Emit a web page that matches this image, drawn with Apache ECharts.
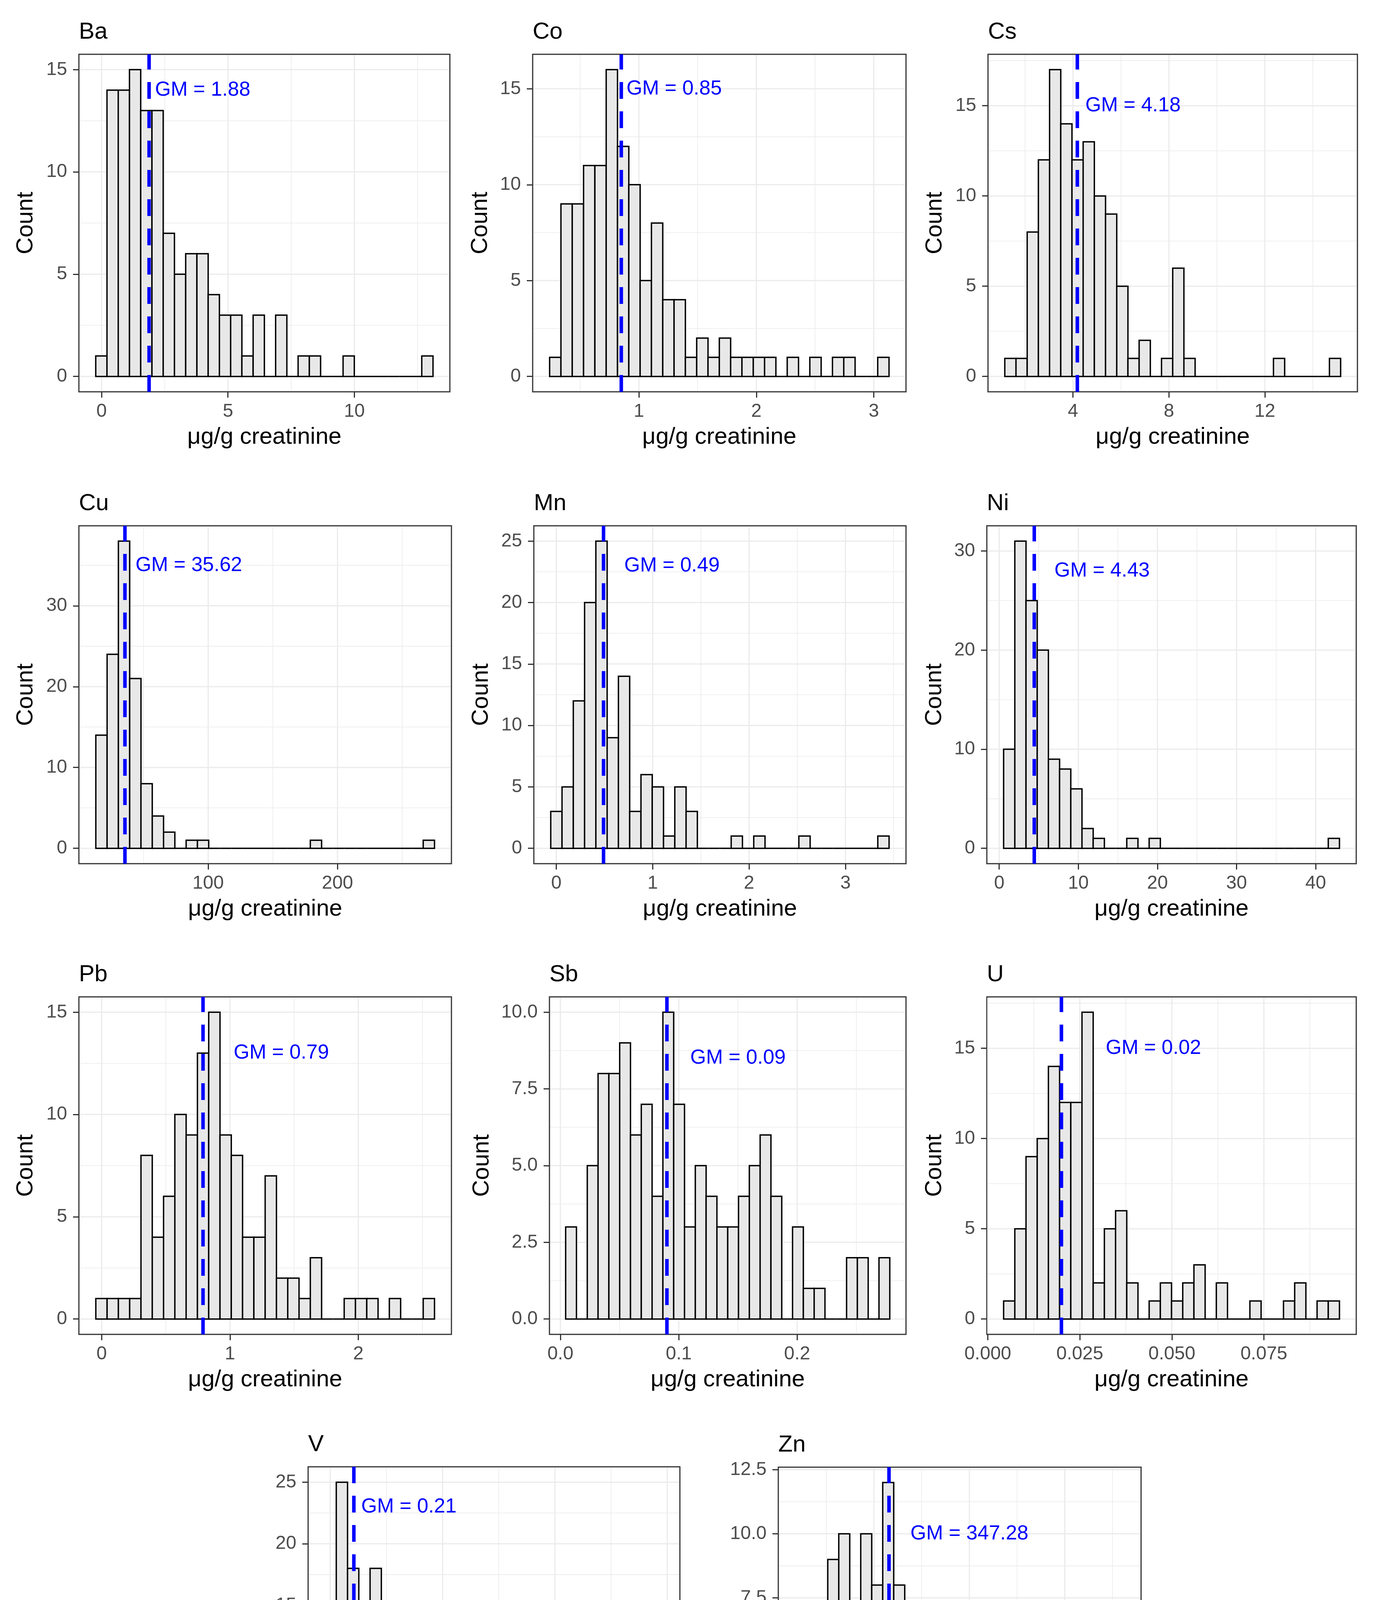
<!DOCTYPE html>
<html>
<head>
<meta charset="utf-8">
<script src="https://cdn.jsdelivr.net/npm/echarts@6/dist/echarts.min.js"></script>
<style>
html,body{margin:0;padding:0;background:#ffffff;}
#chart{width:3521px;height:4807px;}
</style>
</head>
<body>
<div id="chart"></div>
<script>
// ---------------- DATA ----------------
const elements = ['Ba','Co','Cs','Cu','Mn','Ni','Pb','Sb','U','V','Zn'];

// histogram counts (30 bins each)
const countsBa = [1,14,14,15,13,13,7,5,6,6, 4,3,3,1,3,0,3,0,1,1, 0,0,1,0,0,0,0,0,0,1];
const countsCo = [1,9,9,11,11,16,12,10,5,8, 4,4,1,2,1,2,1,1,1,1, 0,1,0,1,0,1,1,0,0,1];
const countsCs = [1,1,8,12,17,14,12,13,10,9, 5,1,2,0,1,6,1,0,0,0, 0,0,0,0,1,0,0,0,0,1];
const countsCu = [14,24,38,21,8,4,2,0,1,1, 0,0,0,0,0,0,0,0,0,1, 0,0,0,0,0,0,0,0,0,1];
const countsMn = [3,5,12,20,25,9,14,3,6,5, 1,5,3,0,0,0,1,0,1,0, 0,0,1,0,0,0,0,0,0,1];
const countsNi = [10,31,25,20,9,8,6,2,1,0, 0,1,0,1,0,0,0,0,0,0, 0,0,0,0,0,0,0,0,0,1];
const countsPb = [1,1,1,1,8,4,6,10,9,13, 15,9,8,4,4,7,2,2,1,3, 0,0,1,1,1,0,1,0,0,1];
const countsSb = [3,0,5,8,8,9,6,7,4,10, 7,3,5,4,3,3,4,5,6,4, 0,3,1,1,0,0,2,2,0,2];
const countsU  = [1,5,9,10,14,12,12,17,2,5, 6,2,0,1,2,1,2,3,0,2, 0,0,1,0,0,1,2,0,1,1];
const countsV  = [13,25,18,12,18,6,9,2,4,4, 1,0,1,1,0,0,0,0,0,0, 0,0,0,0,0,0,0,0,0,1];
const countsZn = [1,1,3,9,10,7,10,8,12,8, 6,7,5,6,2,3,2,7,2,2, 1,0,1,0,0,0,1,0,0,1];

// left edge of the first bin and bin width (µg/g creatinine)
const binStart = [-0.230, 0.240, 1.155, 13.1, -0.0576, 0.556, -0.0455, 0.00444, 0.0043, -0.0468, 51];
const binWidth = [0.4447, 0.09632, 0.4668, 8.73, 0.117, 1.415, 0.08798, 0.009128, 0.003041, 0.1003, 34.57];

// geometric means and their labels
const gmValues = [1.88, 0.85, 4.18, 35.62, 0.49, 4.43, 0.79, 0.09, 0.02, 0.21, 347.28];
const gmLabels = ['1.88','0.85','4.18','35.62','0.49','4.43','0.79','0.09','0.02','0.21','347.28'];
const gmLabelX = [4.0, 1.3, 6.5, 85, 1.2, 13, 1.4, 0.15, 0.045, 0.7, 600];
const gmLabelY = [14, 15, 15, 35, 23, 28, 13, 8.5, 15, 23, 10];

// tick labels
const xTicksBa = ['0','5','10'];            const yTicksBa = ['0','5','10','15'];
const xTicksCo = ['1','2','3'];             const yTicksCo = ['0','5','10','15'];
const xTicksCs = ['4','8','12'];            const yTicksCs = ['0','5','10','15'];
const xTicksCu = ['100','200'];             const yTicksCu = ['0','10','20','30'];
const xTicksMn = ['0','1','2','3'];         const yTicksMn = ['0','5','10','15','20','25'];
const xTicksNi = ['0','10','20','30','40']; const yTicksNi = ['0','10','20','30'];
const xTicksPb = ['0','1','2'];             const yTicksPb = ['0','5','10','15'];
const xTicksSb = ['0.0','0.1','0.2'];       const yTicksSb = ['0.0','2.5','5.0','7.5','10.0'];
const xTicksU  = ['0.000','0.025','0.050','0.075']; const yTicksU = ['0','5','10','15'];
const xTicksV  = ['0','1','2','3'];         const yTicksV  = ['0','5','10','15','20','25'];
const xTicksZn = ['300','600','900'];       const yTicksZn = ['0.0','2.5','5.0','7.5','10.0','12.5'];

const xAxisTitle = 'μg/g creatinine';
const yAxisTitle = 'Count';

// ---------------- LAYOUT (pixels) ----------------
const panelL = [202, 1364, 2530, 202, 1367, 2527, 202, 1407, 2527, 789, 1993];
const panelT = [139, 139, 139, 1346, 1346, 1346, 2552, 2552, 2552, 3755, 3756];
const panelR = [1152, 2320, 3476, 1156, 2320, 3473, 1156, 2320, 3473, 1741, 2922];
const panelB = [1003, 1003, 1003, 2211, 2211, 2211, 3416, 3416, 3416, 4622, 4622];
const countX = [66, 1230, 2394, 66, 1232, 2393, 66, 1234, 2393, 653, 1815];

const FONT = '"Liberation Sans", Arial, Helvetica, sans-serif';
const TICK_FS = 48, TITLE_FS = 60, AXTITLE_FS = 60, GM_FS = 52;

// ---------------- BUILD ----------------
const allCounts = [countsBa,countsCo,countsCs,countsCu,countsMn,countsNi,countsPb,countsSb,countsU,countsV,countsZn];
const allXTicks = [xTicksBa,xTicksCo,xTicksCs,xTicksCu,xTicksMn,xTicksNi,xTicksPb,xTicksSb,xTicksU,xTicksV,xTicksZn];
const allYTicks = [yTicksBa,yTicksCo,yTicksCs,yTicksCu,yTicksMn,yTicksNi,yTicksPb,yTicksSb,yTicksU,yTicksV,yTicksZn];

function makeFormatter(strs){
  const nums = strs.map(Number);
  return function(v){
    let best = 0;
    for (let k = 1; k < nums.length; k++) if (Math.abs(nums[k]-v) < Math.abs(nums[best]-v)) best = k;
    return strs[best];
  };
}
function minorBreaks(major, lim){
  const step = major[1]-major[0];
  const out = [];
  for (let k = -1; k < major.length; k++){
    const m = (k < 0 ? major[0]-step : major[k]) + step/2;
    if (m > lim[0] && m < lim[1]) out.push(m);
  }
  return out;
}

const grids=[], xAxes=[], yAxes=[], series=[], titles=[];

elements.forEach((el, i) => {
  const c = allCounts[i], w = binWidth[i], s = binStart[i], n = c.length;
  const e = s + n*w, span = e - s;
  const xLim = [s - 0.05*span, e + 0.05*span];
  const maxC = Math.max(...c);
  const yLim = [-0.05*maxC, 1.05*maxC];
  const xt = allXTicks[i].map(Number), yt = allYTicks[i].map(Number);
  const L = panelL[i], T = panelT[i], W = panelR[i]-panelL[i], H = panelB[i]-panelT[i];

  grids.push({left:L, top:T, width:W, height:H, show:true, borderColor:'#333333', borderWidth:3,
              backgroundColor:'#ffffff', containLabel:false, outerBoundsMode:'none'});

  xAxes.push({
    gridIndex:i, type:'value', min:xLim[0], max:xLim[1], position:'bottom',
    axisLine:{show:false, onZero:false},
    axisTick:{show:true, customValues:xt, length:15, inside:false, lineStyle:{color:'#333333', width:3}},
    axisLabel:{show:true, customValues:xt, formatter:makeFormatter(allXTicks[i]), margin:27,
               color:'#4d4d4d', fontSize:TICK_FS, fontFamily:FONT, hideOverlap:false},
    splitLine:{show:false},
    name:xAxisTitle, nameLocation:'middle', nameGap:86, nameMoveOverlap:false,
    nameTextStyle:{fontSize:AXTITLE_FS, color:'#000000', fontFamily:FONT}
  });
  yAxes.push({
    gridIndex:i, type:'value', min:yLim[0], max:yLim[1], position:'left',
    axisLine:{show:false, onZero:false},
    axisTick:{show:true, customValues:yt, length:15, inside:false, lineStyle:{color:'#333333', width:3}},
    axisLabel:{show:true, customValues:yt, formatter:makeFormatter(allYTicks[i]), margin:30,
               color:'#4d4d4d', fontSize:TICK_FS, fontFamily:FONT, hideOverlap:false},
    splitLine:{show:false},
    name:yAxisTitle, nameLocation:'middle', nameRotate:90, nameGap:(L - countX[i] - 30), nameMoveOverlap:false,
    nameTextStyle:{fontSize:AXTITLE_FS, color:'#000000', fontFamily:FONT}
  });

  titles.push({text:el, left:L, top:T - 36 - 51, padding:0,
               textStyle:{fontSize:TITLE_FS, fontWeight:'normal', color:'#000000', fontFamily:FONT}});

  // grid lines (major: 0/2, minor: 1/3)
  const gridData = [];
  xt.forEach(v => { if (v >= xLim[0] && v <= xLim[1]) gridData.push([v, 0]); });
  minorBreaks(xt, xLim).forEach(v => gridData.push([v, 1]));
  yt.forEach(v => { if (v >= yLim[0] && v <= yLim[1]) gridData.push([v, 2]); });
  minorBreaks(yt, yLim).forEach(v => gridData.push([v, 3]));

  series.push({
    type:'custom', name:el+' grid', xAxisIndex:i, yAxisIndex:i, silent:true, z:1,
    data:gridData,
    renderItem:function(params, api){
      const v = api.value(0), kind = api.value(1);
      const cs = params.coordSys;
      const lw = (kind === 0 || kind === 2) ? 3 : 1.6;
      if (kind < 2){
        const x = api.coord([v, yLim[0]])[0];
        return {type:'line', shape:{x1:x, y1:cs.y+2, x2:x, y2:cs.y+cs.height-2},
                style:{stroke:'#ebebeb', lineWidth:lw}};
      }
      const y = api.coord([xLim[0], v])[1];
      return {type:'line', shape:{x1:cs.x+2, y1:y, x2:cs.x+cs.width-2, y2:y},
              style:{stroke:'#ebebeb', lineWidth:lw}};
    }
  });

  // histogram bars
  series.push({
    type:'custom', name:el, xAxisIndex:i, yAxisIndex:i, z:2,
    data:c.map((cnt, k) => [s + k*w, s + (k+1)*w, cnt]),
    encode:{x:[0,1], y:2},
    renderItem:function(params, api){
      const x0 = api.value(0), x1 = api.value(1), cnt = api.value(2);
      const p0 = api.coord([x0, cnt]), p1 = api.coord([x1, 0]);
      if (cnt === 0){
        return {type:'line', shape:{x1:p0[0], y1:p1[1], x2:p1[0], y2:p1[1]},
                style:{stroke:'#000000', lineWidth:3.5}};
      }
      return {type:'rect', shape:{x:p0[0], y:p0[1], width:p1[0]-p0[0], height:p1[1]-p0[1]},
              style:{fill:'#e8e8e8', stroke:'#000000', lineWidth:3.5}};
    }
  });

  // GM dashed line
  series.push({
    type:'custom', name:el+' GM', xAxisIndex:i, yAxisIndex:i, z:3, silent:true,
    data:[[gmValues[i], 0]],
    renderItem:function(params, api){
      const x = api.coord([api.value(0), 0])[0];
      const cs = params.coordSys;
      return {type:'line', shape:{x1:x, y1:cs.y+cs.height, x2:x, y2:cs.y},
              style:{stroke:'#0000ff', lineWidth:9, lineDash:[43,32]}};
    }
  });

  // GM label
  series.push({
    type:'custom', name:el+' GM label', xAxisIndex:i, yAxisIndex:i, z:4, silent:true,
    data:[[gmLabelX[i], gmLabelY[i]]],
    renderItem:function(params, api){
      const p = api.coord([api.value(0), api.value(1)]);
      return {type:'text', x:p[0], y:p[1],
              style:{text:'GM = ' + gmLabels[i], fill:'#0000ff', fontSize:GM_FS, fontFamily:FONT,
                     align:'center', verticalAlign:'middle'}};
    }
  });
});

const chart = echarts.init(document.getElementById('chart'), null, {renderer:'canvas'});
chart.setOption({
  animation:false,
  backgroundColor:'#ffffff',
  title:titles,
  grid:grids,
  xAxis:xAxes,
  yAxis:yAxes,
  series:series
});
</script>
</body>
</html>
